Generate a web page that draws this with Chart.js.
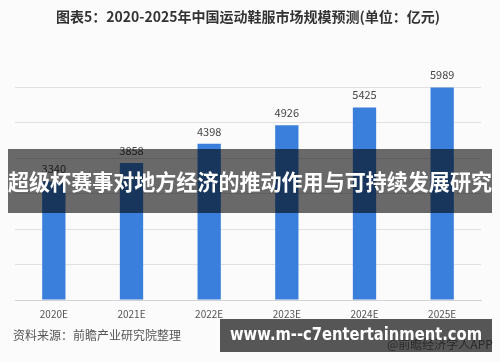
<!DOCTYPE html>
<html>
<head>
<meta charset="utf-8">
<script src="https://cdn.jsdelivr.net/npm/chart.js@4"></script>
<style>
html,body{margin:0;padding:0;background:#fbfbfc;}
#wrap{width:500px;height:362px;position:relative;}
</style>
</head>
<body>
<div id="wrap"><canvas id="c" width="500" height="362"></canvas></div>
<script>
const categories = ['2020E', '2021E', '2022E', '2023E', '2024E', '2025E'];
const marketSize = [3340, 3858, 4398, 4926, 5425, 5989];
const yTicks = [0, 1000, 2000, 3000, 4000, 5000, 6000];
const titleText = '图表5：2020-2025年中国运动鞋服市场规模预测(单位：亿元)';
const sourceText = '资料来源：前瞻产业研究院整理';
const bannerText = '超级杯赛事对地方经济的推动作用与可持续发展研究';
const urlText = 'www.m--c7entertainment.com';
const appText = '@前瞻经济学人APP';

const CJK = '"Noto Sans CJK SC", "Noto Sans", sans-serif';

const bgPlugin = {
  id: 'bg',
  beforeDraw(chart) {
    const ctx = chart.ctx;
    ctx.save();
    ctx.fillStyle = '#fbfbfc';
    ctx.fillRect(0, 0, chart.width, chart.height);
    ctx.restore();
  }
};

const labelPlugin = {
  id: 'vlabels',
  afterDatasetsDraw(chart) {
    const ctx = chart.ctx;
    const meta = chart.getDatasetMeta(0);
    ctx.save();
    ctx.font = '11px ' + CJK;
    ctx.fillStyle = '#444';
    ctx.textAlign = 'center';
    ctx.textBaseline = 'middle';
    meta.data.forEach((bar, i) => {
      ctx.fillText(String(marketSize[i]), bar.x, bar.y - 12.5);
    });
    ctx.restore();
  }
};

const overlayPlugin = {
  id: 'overlay',
  afterDraw(chart) {
    const ctx = chart.ctx;
    ctx.save();
    // source text
    ctx.font = '12px ' + CJK;
    ctx.fillStyle = '#555';
    ctx.textAlign = 'left';
    ctx.textBaseline = 'middle';
    ctx.fillText(sourceText, 13, 335);
    // app credit (partly hidden)
    ctx.font = '12px ' + CJK;
    ctx.fillStyle = '#777';
    ctx.fillText(appText, 387, 344);
    // middle banner
    ctx.fillStyle = 'rgba(0,0,0,0.58)';
    ctx.fillRect(8, 149, 484, 64);
    ctx.font = 'bold 22px ' + CJK;
    ctx.fillStyle = '#ffffff';
    ctx.textAlign = 'center';
    ctx.textBaseline = 'middle';
    ctx.fillText(bannerText, 250, 182, 484);
    // bottom banner
    ctx.fillStyle = 'rgba(0,0,0,0.66)';
    ctx.fillRect(220, 319, 272, 33);
    ctx.font = 'bold 17px "DejaVu Sans", sans-serif';
    ctx.fillStyle = '#ffffff';
    ctx.textAlign = 'left';
    ctx.fillText(urlText, 230, 336, 252);
    ctx.restore();
  }
};

new Chart(document.getElementById('c'), {
  type: 'bar',
  data: {
    labels: categories,
    datasets: [{
      data: marketSize,
      backgroundColor: '#3a7fdb',
      barPercentage: 0.3,
      categoryPercentage: 1.0
    }]
  },
  options: {
    responsive: false,
    animation: false,
    devicePixelRatio: 1,
    layout: { padding: { left: 15, right: 19, top: 0, bottom: 0 } },
    plugins: {
      legend: { display: false },
      tooltip: { enabled: false },
      title: {
        display: true,
        text: titleText,
        color: '#333',
        font: { family: CJK, size: 14, weight: 'bold', lineHeight: 1.2 },
        padding: { top: 8, bottom: 62.2 }
      }
    },
    scales: {
      x: {
        grid: { display: false, drawTicks: false },
        border: { color: '#d2d2d2' },
        ticks: { color: '#555', font: { family: CJK, size: 10 }, padding: 8 },
        afterFit(s) { s.height = 62; }
      },
      y: {
        min: 0,
        max: 6000,
        afterBuildTicks(s) { s.ticks = yTicks.map(v => ({ value: v })); },
        ticks: { display: false },
        grid: { color: '#e0e0e0', drawTicks: false },
        border: { display: false },
        afterFit(s) { s.width = 0; }
      }
    }
  },
  plugins: [bgPlugin, labelPlugin, overlayPlugin]
});
</script>
</body>
</html>
